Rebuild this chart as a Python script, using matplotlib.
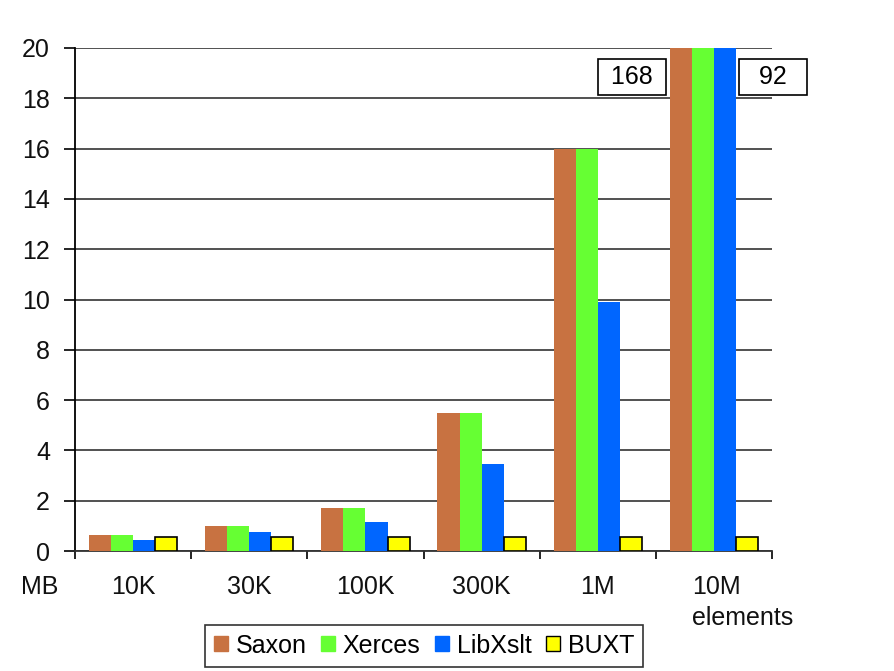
import numpy as np
import matplotlib
matplotlib.use("Agg")
from matplotlib import pyplot as plt
from matplotlib.patches import Patch

plt.rcParams['font.family'] = ['Liberation Sans', 'DejaVu Sans']

categories = ['10K', '30K', '100K', '300K', '1M', '10M\nelements']
saxon = [0.65, 1.0, 1.7, 5.5, 16.0, 168]
xerces = [0.65, 1.0, 1.7, 5.5, 16.0, 168]
libxslt = [0.45, 0.75, 1.15, 3.45, 9.9, 92]
buxt = [0.55, 0.55, 0.55, 0.55, 0.55, 0.55]
series_names = ['Saxon', 'Xerces', 'LibXslt', 'BUXT']
colors = ['#C87241', '#66FF33', '#0066FF', '#FFFF00']
ymax = 20
fs = 18

fig = plt.figure(figsize=(8.95, 6.71), dpi=100)
ax = fig.add_axes([0.0838, 0.1788, 0.7788, 0.7497])

x = np.arange(len(categories)) + 0.5
w = 0.19
allseries = [saxon, xerces, libxslt, buxt]
for i, (vals, c) in enumerate(zip(allseries, colors)):
    clipped = np.minimum(vals, ymax)
    edge = 'black' if series_names[i] == 'BUXT' else 'none'
    lw = 1.2 if series_names[i] == 'BUXT' else 0
    ax.bar(x + (i - 1.5) * w, clipped, width=w, color=c, edgecolor=edge,
           linewidth=lw, zorder=3)

ax.set_xlim(0, len(categories))
ax.set_ylim(0, ymax)
ax.set_yticks(range(0, 21, 2))
ax.yaxis.grid(True, color='#333333', linewidth=1.2, zorder=0)
ax.set_axisbelow(True)
for s in ['top', 'right']:
    ax.spines[s].set_visible(False)
ax.spines['left'].set_color('black')
ax.spines['bottom'].set_color('#333333')
ax.spines['left'].set_linewidth(1.3)
ax.spines['bottom'].set_linewidth(1.3)

ax.set_xticks(range(len(categories) + 1))
ax.set_xticklabels([])
ax.tick_params(axis='x', length=6, width=1.2, direction='out')
ax.tick_params(axis='y', length=8, width=1.2, direction='out', labelsize=fs, pad=10,
               labelcolor='#111111')

for xi, lab in zip(x, categories):
    if '\n' in lab:
        ax.text(xi - 0.19, -0.95, lab, ha='left', va='top', fontsize=fs, color='#111111',
                linespacing=1.35)
    else:
        ax.text(xi, -0.95, lab, ha='center', va='top', fontsize=fs, color='#111111')
ax.text(-0.14, -0.95, 'MB', ha='right', va='top', fontsize=fs, color='#111111')

# off-scale values for 10M (Saxon/Xerces left, LibXslt right)
box = dict(boxstyle='square,pad=0.25', facecolor='white', edgecolor='black', linewidth=1.2)
ax.text(x[5] - 2 * w - 0.085, 18.85, ' %d ' % saxon[5], ha='right', va='center', fontsize=fs,
        bbox=box, zorder=5)
ax.text(x[5] + w + 0.08, 18.85, '  %d  ' % libxslt[5], ha='left', va='center', fontsize=fs,
        bbox=box, zorder=5)

handles = [Patch(facecolor=c, edgecolor=('black' if n == 'BUXT' else c), label=n)
           for n, c in zip(series_names, colors)]
leg = fig.legend(handles=handles, loc='lower center', bbox_to_anchor=(0.474, -0.012), ncol=4,
                 fontsize=fs, frameon=True, fancybox=False, edgecolor='black',
                 handlelength=0.55, handleheight=0.55, handletextpad=0.3, columnspacing=0.6,
                 borderpad=0.35)
leg.get_frame().set_linewidth(1.2)

fig.savefig('out.png', dpi=100, facecolor='white')
